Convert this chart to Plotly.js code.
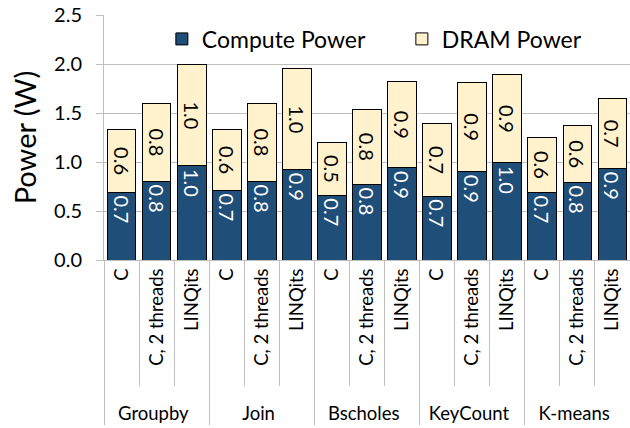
<!DOCTYPE html>
<html>
<head>
<meta charset="utf-8">
<script src="https://cdn.plot.ly/plotly-3.0.1.min.js"></script>
<style>
  html, body { margin: 0; padding: 0; background: #fff; }
  #chart { width: 630px; height: 428px; }
</style>
</head>
<body>
<div id="chart"></div>
<script>
// Benchmarks and variants (two-level x axis)
const groups = ['Groupby', 'Groupby', 'Groupby', 'Join', 'Join', 'Join',
  'Bscholes', 'Bscholes', 'Bscholes', 'KeyCount', 'KeyCount', 'KeyCount',
  'K-means', 'K-means', 'K-means'];
const variants = ['C', 'C, 2 threads', 'LINQits', 'C', 'C, 2 threads', 'LINQits',
  'C', 'C, 2 threads', 'LINQits', 'C', 'C, 2 threads', 'LINQits',
  'C', 'C, 2 threads', 'LINQits'];

// Power in watts
const computePower = [0.69, 0.80, 0.96, 0.71, 0.80, 0.92, 0.66, 0.77, 0.94, 0.65, 0.90, 0.99, 0.69, 0.79, 0.93];
const dramPower = [0.64, 0.80, 1.03, 0.62, 0.80, 1.03, 0.54, 0.77, 0.88, 0.74, 0.91, 0.90, 0.56, 0.58, 0.72];

const font = 'Lato, "Open Sans", sans-serif';

// leading blanks push the group row further down (plotly stacks it under the inner labels)
const pad = '\u00a0'.repeat(4);
const xCats = [groups, variants.map(v => pad + v)];

const traces = [
  {
    type: 'bar',
    name: 'Compute Power',
    x: xCats,
    y: computePower,
    marker: { color: '#1F4E79', line: { color: '#000', width: 1 } },
    texttemplate: '%{y:.1f}',
    textposition: 'inside',
    insidetextanchor: 'end',
    textangle: 90,
    constraintext: 'none',
    insidetextfont: { family: font, size: 20, color: '#fff' },
    hoverinfo: 'y'
  },
  {
    type: 'bar',
    name: 'DRAM Power',
    x: xCats,
    y: dramPower,
    marker: { color: '#FFF2CC', line: { color: '#000', width: 1 } },
    texttemplate: '%{y:.1f}',
    textposition: 'inside',
    insidetextanchor: 'middle',
    textangle: 90,
    constraintext: 'none',
    insidetextfont: { family: font, size: 20, color: '#000' },
    hoverinfo: 'y'
  }
];

const layout = {
  width: 630,
  height: 428,
  margin: { l: 104, r: 0, t: 15, b: 168, autoexpand: false },
  barmode: 'stack',
  bargap: 0.18,
  paper_bgcolor: '#fff',
  plot_bgcolor: '#fff',
  font: { family: font, size: 18, color: '#000' },
  showlegend: true,
  legend: {
    orientation: 'h',
    x: 0.11,
    y: 0.99,
    xanchor: 'left',
    yanchor: 'top',
    bgcolor: 'rgba(0,0,0,0)',
    font: { family: font, size: 23 },
    entrywidth: 195,
    traceorder: 'normal'
  },
  yaxis: {
    range: [0, 2.5],
    dtick: 0.5,
    tickformat: '.1f',
    showgrid: true,
    gridcolor: '#BFBFBF',
    zeroline: false,
    showline: true,
    linecolor: '#BFBFBF',
    ticks: 'outside',
    ticklen: 7,
    tickcolor: '#BFBFBF',
    ticklabelstandoff: 10,
    tickfont: { family: font, size: 20 },
    title: { text: 'Power (W)', font: { family: font, size: 29 }, standoff: 8 }
  },
  xaxis: {
    type: 'multicategory',
    tickangle: -90,
    tickson: 'boundaries',
    ticks: 'outside',
    ticklen: 125,
    tickcolor: '#BFBFBF',
    showdividers: true,
    dividercolor: '#BFBFBF',
    dividerwidth: 1,
    showline: true,
    linecolor: '#BFBFBF',
    tickfont: { family: font, size: 18.5 }
  }
};

Plotly.newPlot('chart', traces, layout, { displayModeBar: false, staticPlot: true });
</script>
</body>
</html>
